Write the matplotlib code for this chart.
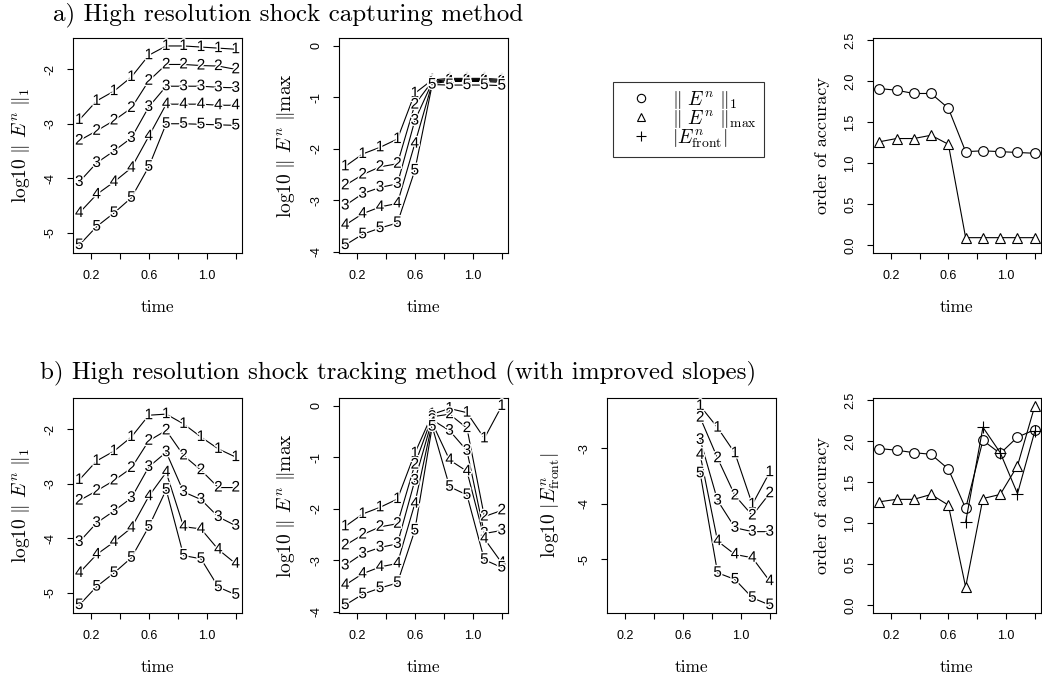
import numpy as np
import matplotlib
matplotlib.use("Agg")
import matplotlib.pyplot as plt
import matplotlib.patheffects as pe
from matplotlib.lines import Line2D

plt.rcParams['mathtext.fontset'] = 'cm'
plt.rcParams['axes.unicode_minus'] = False

nan = np.nan
times = [0.12, 0.24, 0.36, 0.48, 0.60, 0.72, 0.84, 0.96, 1.08, 1.20]

# a) shock capturing: log10 of the errors, one row per refinement level
cap_l1 = [
    [-2.93, -2.58, -2.40, -2.14, -1.74, -1.57, -1.57, -1.59, -1.61, -1.63],
    [-3.31, -3.13, -2.94, -2.71, -2.21, -1.91, -1.91, -1.93, -1.94, -2.00],
    [-4.07, -3.72, -3.50, -3.26, -2.69, -2.31, -2.31, -2.31, -2.33, -2.34],
    [-4.64, -4.30, -4.07, -3.81, -3.23, -2.64, -2.64, -2.64, -2.66, -2.66],
    [-5.23, -4.89, -4.64, -4.36, -3.79, -3.00, -3.00, -3.01, -3.02, -3.03],
]
cap_max = [
    [-2.34, -2.10, -1.97, -1.81, -0.92, -0.66, -0.63, -0.63, -0.63, -0.65],
    [-2.71, -2.50, -2.35, -2.29, -1.14, -0.69, -0.65, -0.65, -0.65, -0.67],
    [-3.10, -2.87, -2.75, -2.68, -1.45, -0.71, -0.67, -0.67, -0.67, -0.69],
    [-3.48, -3.26, -3.13, -3.06, -1.90, -0.73, -0.69, -0.69, -0.69, -0.71],
    [-3.87, -3.66, -3.54, -3.44, -2.42, -0.75, -0.76, -0.76, -0.76, -0.77],
]
cap_order_l1 = [1.91, 1.89, 1.85, 1.85, 1.67, 1.14, 1.15, 1.14, 1.13, 1.12]
cap_order_max = [1.26, 1.30, 1.30, 1.34, 1.23, 0.09, 0.09, 0.09, 0.09, 0.09]

# b) shock tracking
trk_l1 = [
    [-2.93, -2.58, -2.40, -2.14, -1.74, -1.72, -1.90, -2.14, -2.36, -2.51],
    [-3.31, -3.13, -2.94, -2.71, -2.21, -2.02, -2.48, -2.75, -3.07, -3.07],
    [-4.07, -3.72, -3.50, -3.26, -2.69, -2.42, -3.15, -3.29, -3.61, -3.77],
    [-4.64, -4.30, -4.07, -3.81, -3.23, -2.79, -3.79, -3.83, -4.21, -4.47],
    [-5.23, -4.89, -4.64, -4.36, -3.79, -3.11, -4.32, -4.38, -4.90, -5.04],
]
trk_max = [
    [-2.34, -2.10, -1.97, -1.81, -0.92, -0.16, -0.05, -0.13, -0.63, 0.00],
    [-2.71, -2.50, -2.35, -2.29, -1.14, -0.21, -0.16, -0.43, -2.15, -2.03],
    [-3.10, -2.87, -2.75, -2.68, -1.45, -0.27, -0.48, -0.87, -2.48, -2.42],
    [-3.48, -3.26, -3.13, -3.06, -1.90, -0.33, -1.05, -1.27, -2.58, -3.05],
    [-3.87, -3.66, -3.54, -3.44, -2.42, -0.40, -1.57, -1.73, -2.99, -3.14],
]
trk_front = [
    [nan, nan, nan, nan, nan, -2.24, -2.63, -3.09, -4.01, -3.43],
    [nan, nan, nan, nan, nan, -2.45, -3.18, -3.85, -4.21, -3.81],
    [nan, nan, nan, nan, nan, -2.85, -3.94, -4.43, -4.50, -4.50],
    [nan, nan, nan, nan, nan, -3.12, -4.67, -4.91, -4.97, -5.39],
    [nan, nan, nan, nan, nan, -3.45, -5.24, -5.36, -5.69, -5.82],
]
trk_order_l1 = [1.91, 1.89, 1.86, 1.84, 1.66, 1.18, 2.01, 1.85, 2.05, 2.14]
trk_order_max = [1.26, 1.29, 1.29, 1.35, 1.22, 0.22, 1.30, 1.35, 1.70, 2.43]
trk_order_front = [nan, nan, nan, nan, nan, 1.01, 2.17, 1.86, 1.36, 2.12]

x_ticks = [0.2, 0.4, 0.6, 0.8, 1.0, 1.2]
x_ticklabels = ["0.2", "", "0.6", "", "1.0", ""]

SANS = "Liberation Sans"
W, H = 1042, 680


def padded(*arrs):
    v = np.concatenate([np.ravel(np.asarray(a, dtype=float)) for a in arrs])
    lo, hi = np.nanmin(v), np.nanmax(v)
    d = 0.04 * (hi - lo)
    return lo - d, hi + d


def make_ax(fig, x0, y0, x1, y1):
    ax = fig.add_axes([x0 / W, 1 - y1 / H, (x1 - x0) / W, (y1 - y0) / H])
    for s in ax.spines.values():
        s.set_linewidth(0.8)
    ax.tick_params(direction='out', length=4, width=0.8, pad=8, labelsize=9)
    ax.set_xlim(*padded(times))
    ax.set_xticks(x_ticks)
    ax.set_xticklabels(x_ticklabels, fontfamily=SANS)
    ax.set_xlabel("time", fontfamily="cmr10", fontsize=12.5)
    ax.xaxis.set_label_coords(0.5, -0.215)
    return ax


def set_yticks(ax, ticks, fmt):
    ax.set_yticks(ticks)
    ax.set_yticklabels([fmt.format(v) for v in ticks], fontfamily=SANS,
                       rotation=90, va='center')


def digit_panel(ax, rows):
    for k, row in enumerate(rows):
        ax.plot(times, row, color='black', lw=0.8)
        for x, y in zip(times, row):
            if np.isnan(y):
                continue
            ax.text(x, y, str(k + 1), ha='center', va='center', fontsize=11,
                    fontfamily=SANS,
                    path_effects=[pe.withStroke(linewidth=2.0, foreground='white')])


def order_panel(ax, l1, mx, front=None):
    ax.plot(times, l1, color='black', lw=0.8, marker='o', ms=7,
            mfc='white', mec='black', mew=0.8)
    ax.plot(times, mx, color='black', lw=0.8, marker='^', ms=7,
            mfc='white', mec='black', mew=0.8)
    if front is not None:
        ax.plot(times, front, color='black', lw=0.8, marker='+', ms=8,
                mec='black', mew=0.8)


fig = plt.figure(figsize=(W / 100, H / 100), dpi=100)

lab_l1 = r'$\mathrm{log10}\ \Vert\ E^n\ \Vert_1$'
lab_max = r'$\mathrm{log10}\ \Vert\ E^n\ \Vert\mathrm{max}$'
lab_front = r'$\mathrm{log10}\ \mathbf{|}E^n_{\mathrm{front}}\mathbf{|}$'

ylim_l1 = padded(cap_l1, trk_l1)
ylim_max = padded(cap_max, trk_max)
ylim_ord = padded([0.0], cap_order_l1, cap_order_max, trk_order_l1,
                  trk_order_max, trk_order_front)

rows = [(38, 253), (398, 613)]
for r, (y0, y1) in enumerate(rows):
    l1 = cap_l1 if r == 0 else trk_l1
    mx = cap_max if r == 0 else trk_max

    ax = make_ax(fig, 73, y0, 242, y1)
    digit_panel(ax, l1)
    ax.set_ylim(*ylim_l1)
    set_yticks(ax, [-5, -4, -3, -2], "{:d}")
    ax.set_ylabel(lab_l1, fontsize=14)
    ax.yaxis.set_label_coords(-0.24, 0.5)

    ax = make_ax(fig, 339, y0, 508, y1)
    digit_panel(ax, mx)
    ax.set_ylim(*ylim_max)
    set_yticks(ax, [-4, -3, -2, -1, 0], "{:d}")
    ax.set_ylabel(lab_max, fontsize=14)
    ax.yaxis.set_label_coords(-0.25, 0.5)

    if r == 1:
        ax = make_ax(fig, 607, y0, 776, y1)
        digit_panel(ax, trk_front)
        ax.set_ylim(*padded(trk_front))
        set_yticks(ax, [-5, -4, -3], "{:d}")
        ax.set_ylabel(lab_front, fontsize=14)
        ax.yaxis.set_label_coords(-0.265, 0.5)

    ax = make_ax(fig, 873, y0, 1041, y1)
    if r == 0:
        order_panel(ax, cap_order_l1, cap_order_max)
    else:
        order_panel(ax, trk_order_l1, trk_order_max, trk_order_front)
    ax.set_ylim(*ylim_ord)
    set_yticks(ax, [0.0, 0.5, 1.0, 1.5, 2.0, 2.5], "{:.1f}")
    ax.set_ylabel("order of accuracy", fontfamily="cmr10", fontsize=13)
    ax.yaxis.set_label_coords(-0.255, 0.5)

handles = [
    Line2D([], [], ls='none', marker='o', ms=6, mfc='white', mec='black', mew=0.8),
    Line2D([], [], ls='none', marker='^', ms=6, mfc='white', mec='black', mew=0.8),
    Line2D([], [], ls='none', marker='+', ms=7, mec='black', mew=0.8),
]
labels = [r'$\Vert\ E^n\ \Vert_1$', r'$\Vert\ E^n\ \Vert_{\mathrm{max}}$',
          r'$|E^n_{\mathrm{front}}|$']
leg = fig.legend(handles, labels, loc='upper left',
                 bbox_to_anchor=(613 / W, 1 - 82 / H), fontsize=14,
                 frameon=True, fancybox=False, edgecolor='black',
                 handlelength=2.2, handletextpad=0.5, labelspacing=-0.15,
                 borderpad=0.35, borderaxespad=0)
leg.get_frame().set_linewidth(0.8)

fig.text(53 / W, 1 - 20 / H, "a) High resolution shock capturing method",
         fontfamily="cmr10", fontsize=18, ha='left', va='baseline')
fig.text(40 / W, 1 - 379 / H,
         "b) High resolution shock tracking method (with improved slopes)",
         fontfamily="cmr10", fontsize=18, ha='left', va='baseline')

fig.savefig("out.png", dpi=100)
